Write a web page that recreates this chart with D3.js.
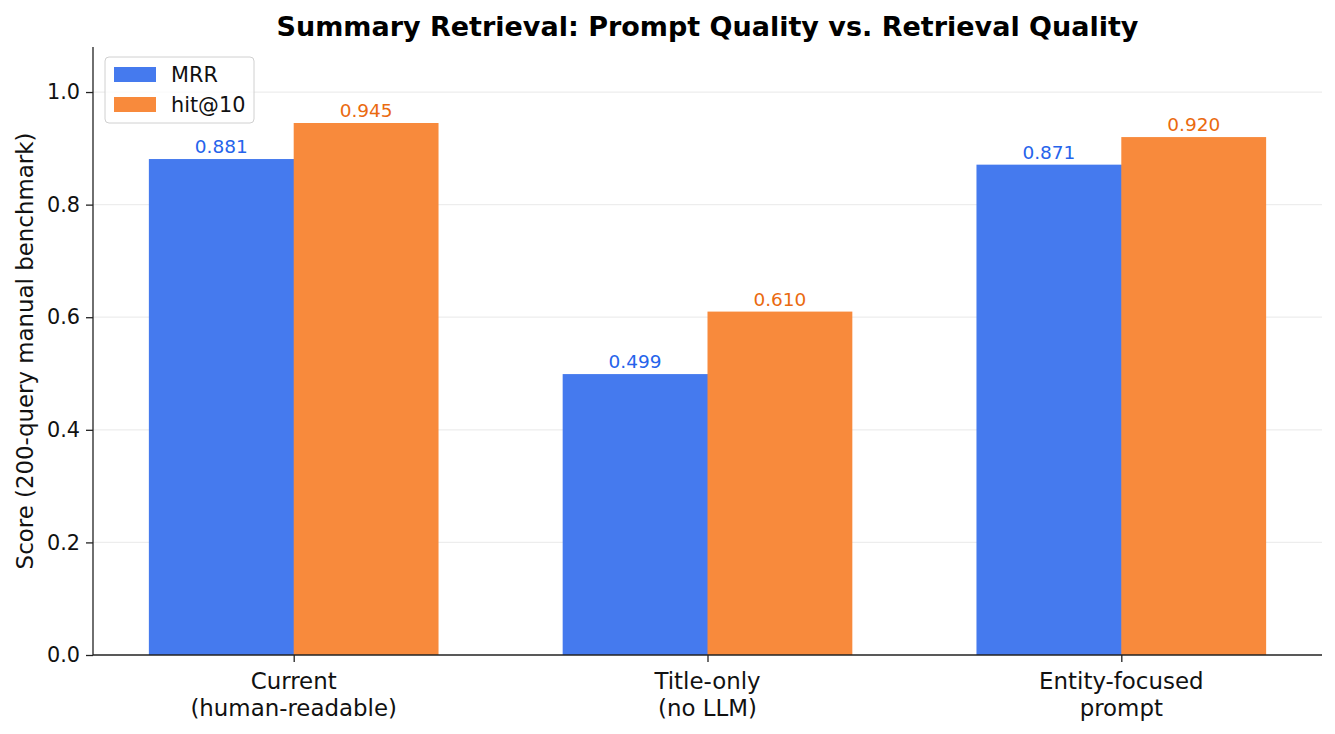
<!DOCTYPE html>
<html>
<head>
<meta charset="utf-8">
<script src="https://cdn.jsdelivr.net/npm/d3@7"></script>
<style>
  body { margin: 0; background: #fff; }
  svg, svg text { font-family: "DejaVu Sans", sans-serif; }
</style>
</head>
<body>
<svg id="chart"></svg>
<script>
const width = 1335;
const height = 734;

const categories = ['Current\n(human-readable)', 'Title-only\n(no LLM)', 'Entity-focused\nprompt'];
const seriesNames = ['MRR', 'hit@10'];
const mrr = [0.881, 0.499, 0.871];
const hit10 = [0.945, 0.610, 0.920];
const yTicks = [0.0, 0.2, 0.4, 0.6, 0.8, 1.0];

const barColors = ['#457aee', '#f88a3c'];
const labelColors = ['#2563eb', '#ea6a10'];

const margin = { left: 93, right: 13, top: 47, bottom: 79 };

const renderChart = () => {
    const svg = d3.select('#chart')
        .attr('width', width)
        .attr('height', height);

    const plotW = width - margin.left - margin.right;
    const plotH = height - margin.top - margin.bottom;

    const g = svg.append('g')
        .attr('transform', `translate(${margin.left},${margin.top})`);

    const barW = 0.35;
    const x = d3.scaleLinear()
        .domain([-barW - 0.135, categories.length - 1 + barW + 0.135])
        .range([0, plotW]);
    const y = d3.scaleLinear().domain([0, 1.08]).range([plotH, 0]);

    // grid
    g.selectAll('.grid')
        .data(yTicks.slice(1))
        .enter().append('line')
        .attr('x1', 0).attr('x2', plotW)
        .attr('y1', d => y(d)).attr('y2', d => y(d))
        .attr('stroke', '#ededed')
        .attr('stroke-width', 1.2);

    const series = [mrr, hit10];
    series.forEach((vals, si) => {
        const offset = si === 0 ? -barW : 0;
        g.selectAll(`.bar${si}`)
            .data(vals)
            .enter().append('rect')
            .attr('x', (d, i) => x(i + offset))
            .attr('width', x(barW) - x(0) + (si === 0 ? 0.6 : 0))
            .attr('y', d => y(d))
            .attr('height', d => y(0) - y(d))
            .attr('fill', barColors[si]);

        g.selectAll(`.lbl${si}`)
            .data(vals)
            .enter().append('text')
            .attr('x', (d, i) => x(i + offset + barW / 2))
            .attr('y', d => y(d) - 6)
            .attr('text-anchor', 'middle')
            .attr('font-size', 18.5)
            .attr('fill', labelColors[si])
            .text(d => d.toFixed(3));
    });

    // y axis
    const yAxis = g.append('g')
        .attr('font-family', 'DejaVu Sans')
        .call(d3.axisLeft(y).tickValues(yTicks).tickFormat(d3.format('.1f')).tickSize(7).tickPadding(6));
    yAxis.select('.domain').attr('stroke', '#222').attr('stroke-width', 1.3).attr('d', `M0,${plotH}V0`);
    yAxis.selectAll('.tick line').attr('stroke', '#222').attr('stroke-width', 1.3);
    yAxis.selectAll('.tick text').attr('font-size', 20.8).attr('fill', '#111');

    // x axis
    const xAxis = g.append('g')
        .attr('font-family', 'DejaVu Sans')
        .attr('transform', `translate(0,${plotH})`)
        .call(d3.axisBottom(x).tickValues(d3.range(categories.length)).tickFormat('').tickSize(7));
    xAxis.select('.domain').attr('stroke', '#222').attr('stroke-width', 1.3).attr('d', `M0,0H${plotW}`);
    xAxis.selectAll('.tick line').attr('stroke', '#222').attr('stroke-width', 1.3);

    categories.forEach((c, i) => {
        const t = xAxis.append('text')
            .attr('x', x(i))
            .attr('y', 34)
            .attr('text-anchor', 'middle')
            .attr('font-size', 22.9)
            .attr('fill', '#111');
        c.split('\n').forEach((line, li) => {
            t.append('tspan').attr('x', x(i)).attr('dy', li === 0 ? 0 : 27).text(line);
        });
    });

    // y label
    svg.append('text')
        .attr('transform', `translate(33,${margin.top + y(0.54)}) rotate(-90)`)
        .attr('text-anchor', 'middle')
        .attr('font-size', 22.9)
        .attr('fill', '#111')
        .text('Score (200-query manual benchmark)');

    // title
    svg.append('text')
        .attr('x', margin.left + plotW / 2)
        .attr('y', 36)
        .attr('text-anchor', 'middle')
        .attr('font-size', 27)
        .attr('font-weight', 'bold')
        .attr('fill', '#000')
        .text('Summary Retrieval: Prompt Quality vs. Retrieval Quality');

    // legend
    const leg = g.append('g').attr('transform', 'translate(12,10)');
    leg.append('rect')
        .attr('width', 149).attr('height', 66)
        .attr('rx', 4)
        .attr('fill', '#fff').attr('fill-opacity', 0.8)
        .attr('stroke', '#d0d0d0');
    seriesNames.forEach((s, i) => {
        leg.append('rect')
            .attr('x', 9).attr('y', 10 + i * 30)
            .attr('width', 42).attr('height', 15)
            .attr('fill', barColors[i]);
        leg.append('text')
            .attr('x', 66).attr('y', 25 + i * 30)
            .attr('font-size', 20.8)
            .attr('fill', '#111')
            .text(s);
    });
};

document.addEventListener('DOMContentLoaded', () => {
    renderChart();
});
</script>
</body>
</html>
